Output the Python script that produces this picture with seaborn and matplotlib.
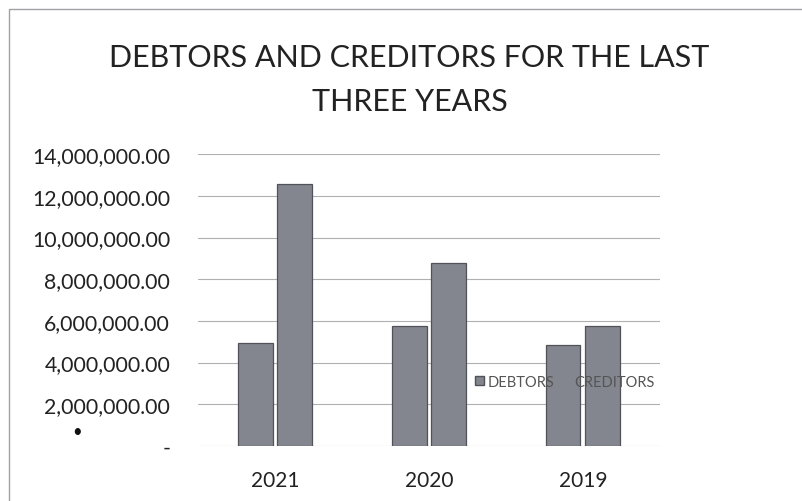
import pandas as pd
import matplotlib.pyplot as plt
import seaborn as sns
from matplotlib.patches import Rectangle

# values
years = ['2021', '2020', '2019']
debtors = [4950000, 5750000, 4850000]
creditors = [12550000, 8800000, 5750000]
y_ticks = [0, 2000000, 4000000, 6000000, 8000000, 10000000, 12000000, 14000000]

df = pd.DataFrame({
    'Year': years * 2,
    'Amount': debtors + creditors,
    'Series': ['DEBTORS'] * len(years) + ['CREDITORS'] * len(years),
})

sns.set_style("white")
plt.rcParams['font.family'] = ['Lato', 'DejaVu Sans']

fig = plt.figure(figsize=(8.03, 5.02), dpi=100)
ax = fig.add_axes([0.2466, 0.1096, 0.575, 0.5814])

bar_grey = '#83868e'
sns.barplot(data=df, x='Year', y='Amount', hue='Series', order=years,
            palette=[bar_grey, bar_grey], width=0.51, gap=0.12,
            edgecolor='#505258', linewidth=0.9, saturation=1, ax=ax, zorder=3,
            legend=False)

ax.set_ylim(0, 14000000)
ax.set_yticks(y_ticks)
ax.set_yticklabels(['-' if v == 0 else f"{v:,.2f}" for v in y_ticks], fontsize=15.3, color='#222222')
ax.tick_params(axis='y', length=0, pad=20)
ax.tick_params(axis='x', length=0, pad=17, labelsize=15, labelcolor='#222222')
ax.grid(axis='y', color='#b0b0b0', linewidth=0.8, zorder=0)
ax.set_xlabel('')
ax.set_ylabel('')
for side in ['top', 'right', 'left', 'bottom']:
    ax.spines[side].set_visible(False)

handles = [Rectangle((0, 0), 1, 1, facecolor=bar_grey, edgecolor='#505258'),
           Rectangle((0, 0), 1, 1, facecolor='none', edgecolor='none')]
ax.legend(handles, ['DEBTORS', 'CREDITORS'], loc='center', bbox_to_anchor=(0.795, 0.22),
          ncol=2, frameon=False, fontsize=10.5, handlelength=0.6, handleheight=0.6,
          handletextpad=0.2, columnspacing=0.6, labelcolor='#555555')

fig.text(0.51, 0.885, 'DEBTORS AND CREDITORS FOR THE LAST', ha='center', va='center',
         fontsize=22, color='#222222')
fig.text(0.51, 0.796, 'THREE YEARS', ha='center', va='center',
         fontsize=22, color='#222222')
fig.text(0.096, 0.139, '\u2022', ha='center', va='center', fontsize=12, color='#111111')

# chart frame
fig.patches.append(Rectangle((0.011, -0.02), 1.2, 1.0, transform=fig.transFigure,
                             fill=False, edgecolor='#a0a0a8', linewidth=1.0))

fig.savefig('out.png', dpi=100)
